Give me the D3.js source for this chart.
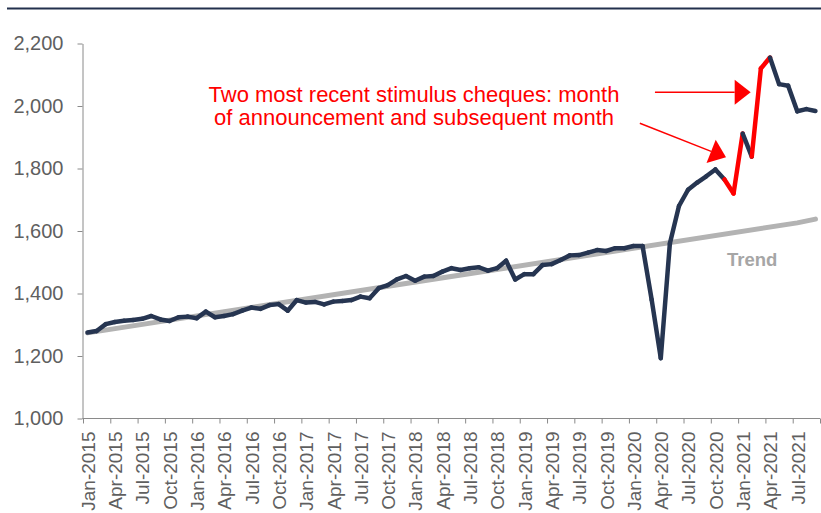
<!DOCTYPE html>
<html>
<head>
<meta charset="utf-8">
<script src="https://cdn.jsdelivr.net/npm/d3@7/dist/d3.min.js"></script>
<style>
  body { margin: 0; background: #fff; }
  svg { display: block; font-family: "Liberation Sans", Arial, sans-serif; }
</style>
</head>
<body>
<div id="chart"></div>
<script>
// monthly values, Jan-2015 .. Sep-2021
const values = [
    1275, 1280, 1302, 1309, 1313, 1315, 1319, 1328, 1317, 1312, 1324, 1326,
    1321, 1342, 1324, 1328, 1334, 1345, 1355, 1351, 1363, 1366, 1345, 1379,
    1371, 1373, 1365, 1374, 1376, 1379, 1390, 1385, 1417, 1427, 1445, 1456,
    1441, 1454, 1456, 1470, 1481, 1475, 1481, 1484, 1473, 1481, 1505, 1445,
    1462, 1462, 1491, 1494, 1507, 1522, 1523, 1531, 1539, 1536, 1545, 1545,
    1552, 1552, 1380, 1193, 1560, 1680, 1732, 1755, 1775, 1797, 1765, 1720,
    1912, 1838, 2120, 2155, 2070, 2065, 1983, 1990, 1984
];
const months = d3.timeMonths(new Date(2015, 0, 1), new Date(2021, 9, 1));

// months whose incoming segment is highlighted (stimulus cheques)
const redMonths = ['Dec-2020', 'Jan-2021', 'Mar-2021', 'Apr-2021'];

// trend line knots
const trendMonths = ['Jan-2015', 'Jul-2021', 'Sep-2021'];
const trendValues = [1274, 1626, 1638];

const yTicks = [1000, 1200, 1400, 1600, 1800, 2000, 2200];
const xTickLabels = [
    'Jan-2015', 'Apr-2015', 'Jul-2015', 'Oct-2015',
    'Jan-2016', 'Apr-2016', 'Jul-2016', 'Oct-2016',
    'Jan-2017', 'Apr-2017', 'Jul-2017', 'Oct-2017',
    'Jan-2018', 'Apr-2018', 'Jul-2018', 'Oct-2018',
    'Jan-2019', 'Apr-2019', 'Jul-2019', 'Oct-2019',
    'Jan-2020', 'Apr-2020', 'Jul-2020', 'Oct-2020',
    'Jan-2021', 'Apr-2021', 'Jul-2021'
];

const noteLines = ['Two most recent stimulus cheques: month', 'of announcement and subsequent month'];

const fmtMonth = d3.timeFormat('%b-%Y');
const monthKeys = months.map(fmtMonth);

const width = 821, height = 513;
const NAVY = '#263551';
const RED = '#ff0000';

const svg = d3.select('#chart').append('svg')
    .attr('width', width).attr('height', height);

// top rule
svg.append('line')
    .attr('x1', 7).attr('x2', width).attr('y1', 8.5).attr('y2', 8.5)
    .attr('stroke', '#22304d').attr('stroke-width', 2);

// month edges: index 0 = start of Jan-2015, points sit mid-month
const xEdge = d3.scaleLinear().domain([0, months.length]).range([83, 820]);
const xMid = function (i) { return xEdge(i + 0.5); };
const y = d3.scaleLinear().domain([1000, 2200]).range([418.5, 43.5]);

// y axis
const yAxis = svg.append('g').attr('transform', 'translate(82.5,0)')
    .call(d3.axisLeft(y).tickValues(yTicks).tickSize(5).tickSizeOuter(0)
        .tickPadding(14).tickFormat(d3.format(',')));
yAxis.selectAll('path, line').attr('stroke', '#8a8a8a');
yAxis.selectAll('text').attr('fill', '#5f5f5f').style('font-size', '20px')
    .style('font-family', '"Liberation Sans", Arial, sans-serif');

// x axis (ticks every quarter on month boundaries)
const tickIdx = d3.range(0, months.length + 1, 3);
const xAxis = svg.append('g').attr('transform', 'translate(0,418.5)')
    .call(d3.axisBottom(xEdge).tickValues(tickIdx).tickSize(5).tickSizeOuter(0)
        .tickFormat(function (d, i) { return xTickLabels[i] || ''; }));
xAxis.select('.domain').attr('d', 'M82.5,0H820');
xAxis.selectAll('path, line').attr('stroke', '#8a8a8a');
xAxis.selectAll('text')
    .attr('fill', '#5f5f5f').style('font-size', '19px')
    .style('font-family', '"Liberation Sans", Arial, sans-serif')
    .attr('x', 0).attr('y', 0).attr('dy', '0.36em')
    .style('text-anchor', 'end')
    .attr('transform', 'translate(' + (xEdge(1) - xEdge(0)) / 2 + ',13) rotate(-90)');

// trend
const trendPts = trendMonths.map(function (m, i) {
    return [xMid(monthKeys.indexOf(m)), y(trendValues[i])];
});
svg.append('path')
    .attr('d', d3.line()(trendPts))
    .attr('fill', 'none').attr('stroke', '#b3b3b3').attr('stroke-width', 5)
    .attr('stroke-linecap', 'round').attr('stroke-linejoin', 'round');

svg.append('text')
    .attr('x', 727).attr('y', 266)
    .attr('fill', '#a6a6a6').style('font-size', '18.5px').style('font-weight', 'bold')
    .text('Trend');

// main series, drawn segment by segment so highlighted months sit in order
const line = d3.line().x(function (d) { return xMid(d.i); }).y(function (d) { return y(d.v); });
const pts = values.map(function (v, i) { return { i: i, v: v, key: monthKeys[i] }; });

svg.append('g').selectAll('path')
    .data(d3.pairs(pts))
    .join('path')
    .attr('d', function (d) { return line(d); })
    .attr('fill', 'none')
    .attr('stroke', function (d) { return redMonths.includes(d[1].key) ? RED : NAVY; })
    .attr('stroke-width', 4.5)
    .attr('stroke-linecap', 'round');

// annotation
const note = svg.append('text')
    .attr('x', 414).attr('y', 102)
    .attr('fill', RED).style('font-size', '22px')
    .style('text-anchor', 'middle');
note.selectAll('tspan').data(noteLines).join('tspan')
    .attr('x', 414).attr('dy', function (d, i) { return i ? 23 : 0; })
    .text(function (d) { return d; });

// arrows: tail/tip in month-edge units and values
const arrows = [
    { from: [62.86, 2044], to: [73.38, 2044] },
    { from: [61.2, 1945], to: [70.67, 1836] }
];
arrows.forEach(function (a) {
    const x1 = xEdge(a.from[0]), y1 = y(a.from[1]);
    const x2 = xEdge(a.to[0]), y2 = y(a.to[1]);
    const len = Math.hypot(x2 - x1, y2 - y1);
    const ux = (x2 - x1) / len, uy = (y2 - y1) / len;
    const headLen = 16, headHalf = 12.5;
    const bx = x2 - ux * headLen, by = y2 - uy * headLen;
    svg.append('line')
        .attr('x1', x1).attr('y1', y1).attr('x2', bx).attr('y2', by)
        .attr('stroke', RED).attr('stroke-width', 1.5);
    svg.append('path')
        .attr('d', 'M' + x2 + ',' + y2 +
            'L' + (bx - uy * headHalf) + ',' + (by + ux * headHalf) +
            'L' + (bx + uy * headHalf) + ',' + (by - ux * headHalf) + 'Z')
        .attr('fill', RED);
});
</script>
</body>
</html>
